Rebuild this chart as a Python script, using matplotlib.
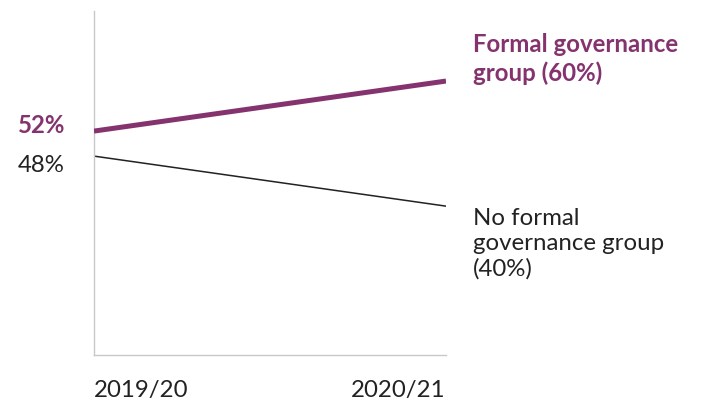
import matplotlib
matplotlib.use("Agg")
import matplotlib.pyplot as plt

plt.rcParams['font.family'] = ['Lato', 'DejaVu Sans']

years = ['2019/20', '2020/21']
formal = [52, 60]
no_formal = [48, 40]
formal_label = 'Formal governance\ngroup (60%)'
no_formal_label = 'No formal\ngovernance group\n(40%)'

purple = '#84336f'
dark = '#222222'
grey = '#c8c8c8'
fs = 17.3

fig = plt.figure(figsize=(7.02, 4.03), dpi=100)
ax = fig.add_axes([94/702, 48/403, 352/702, 344/403])

x = [0, 1]
ax.plot(x, formal, color=purple, lw=3.6, solid_capstyle='butt', zorder=3)
ax.plot(x, no_formal, color=dark, lw=1.1, zorder=2)

ax.set_xlim(0, 1)
ax.set_ylim(16.2, 71.2)

for s in ['top', 'right']:
    ax.spines[s].set_visible(False)
for s in ['left', 'bottom']:
    ax.spines[s].set_color(grey)
    ax.spines[s].set_linewidth(1.0)

ax.set_yticks([])
ax.set_xticks(x)
ax.set_xticklabels(years, fontsize=fs, color=dark)
ax.tick_params(axis='x', length=0, pad=18)
labs = ax.get_xticklabels()
labs[0].set_ha('left')
labs[1].set_ha('right')

# start values on the left
ax.annotate(f'{formal[0]}%', xy=(0, formal[0]), xytext=(-21, 4.3), textcoords='offset points',
            ha='right', va='center', fontsize=fs, color=purple, fontweight='bold', annotation_clip=False)
ax.annotate(f'{no_formal[0]}%', xy=(0, no_formal[0]), xytext=(-21, -6.5), textcoords='offset points',
            ha='right', va='center', fontsize=fs, color=dark, annotation_clip=False)

# series labels on the right
ax.annotate(formal_label, xy=(1, formal[1]), xytext=(19.4, 15.8), textcoords='offset points',
            ha='left', va='center', fontsize=fs, color=purple, fontweight='bold',
            linespacing=1.25, annotation_clip=False)
ax.annotate(no_formal_label, xy=(1, no_formal[1]), xytext=(19.4, -27), textcoords='offset points',
            ha='left', va='center', fontsize=fs, color=dark,
            linespacing=1.25, annotation_clip=False)

fig.savefig('out.png', dpi=100)
